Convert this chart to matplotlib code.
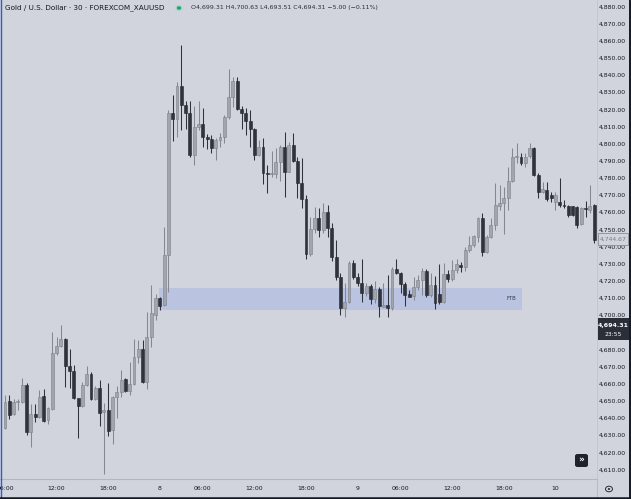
import matplotlib
matplotlib.use("Agg")
import matplotlib.pyplot as plt
from matplotlib.patches import Rectangle, FancyBboxPatch, Circle
from matplotlib.lines import Line2D

# ---------------- data (30-min bars) ----------------
opens = [4634.3, 4650.2, 4642.4, 4649.6, 4649.8, 4659.5, 4632.3, 4642.6, 4640.7, 4653.1,
         4639.1, 4645.3, 4678.0, 4682.5, 4686.5, 4670.6, 4667.9, 4651.8, 4647.5, 4659.5,
         4665.9, 4651.2, 4657.6, 4643.8, 4645.0, 4633.3, 4652.7, 4655.3, 4662.8, 4656.2,
         4660.1, 4675.7, 4680.5, 4661.5, 4687.3, 4700.3, 4710.4, 4706.2, 4735.3, 4818.4,
         4814.5, 4833.9, 4822.9, 4818.0, 4793.7, 4810.2, 4811.6, 4804.0, 4803.0, 4797.6,
         4802.4, 4804.0, 4815.7, 4827.7, 4837.1, 4820.3, 4818.4, 4813.5, 4808.7, 4793.7,
         4798.6, 4783.4, 4782.6, 4782.6, 4789.8, 4798.6, 4784.0, 4799.5, 4790.4, 4777.1,
         4767.8, 4735.9, 4750.3, 4756.7, 4749.9, 4760.6, 4750.9, 4734.3, 4722.7, 4704.3,
         4708.1, 4730.9, 4722.7, 4718.8, 4713.4, 4717.3, 4709.5, 4715.3, 4705.2, 4706.2,
         4704.3, 4727.0, 4725.1, 4718.4, 4712.4, 4711.4, 4716.9, 4720.8, 4726.2, 4712.0,
         4717.9, 4712.6, 4708.1, 4724.1, 4721.2, 4726.6, 4729.5, 4728.5, 4738.3, 4741.2,
         4746.0, 4756.7, 4737.3, 4745.6, 4752.8, 4763.9, 4765.5, 4768.4, 4778.7, 4792.7,
         4792.7, 4788.8, 4793.1, 4797.6, 4782.0, 4772.3, 4773.3, 4770.3, 4766.5, 4766.5,
         4764.5, 4763.9, 4763.9, 4763.5, 4753.4, 4762.6, 4761.6, 4764.5]
highs = [4653.7, 4653.7, 4651.4, 4651.4, 4663.4, 4660.9, 4648.4, 4648.4, 4656.6, 4657.0,
         4646.9, 4690.2, 4687.3, 4694.3, 4687.1, 4680.3, 4671.2, 4652.1, 4661.1, 4670.6,
         4667.3, 4658.9, 4662.4, 4648.8, 4660.9, 4653.3, 4658.9, 4668.3, 4663.8, 4673.1,
         4686.2, 4685.8, 4685.8, 4702.3, 4717.8, 4712.6, 4711.0, 4751.8, 4819.9, 4828.7,
         4836.5, 4857.9, 4825.2, 4825.4, 4822.3, 4825.4, 4820.9, 4806.0, 4805.4, 4803.4,
         4806.7, 4817.0, 4843.7, 4839.4, 4839.4, 4822.3, 4820.9, 4819.9, 4809.2, 4802.4,
         4803.4, 4787.9, 4796.2, 4797.6, 4799.5, 4807.3, 4801.5, 4806.7, 4792.7, 4791.7,
         4770.3, 4757.3, 4763.5, 4762.9, 4765.4, 4764.5, 4754.2, 4744.4, 4724.7, 4718.8,
         4732.1, 4732.4, 4724.7, 4733.2, 4719.2, 4718.4, 4720.4, 4716.5, 4719.2, 4723.7,
         4728.2, 4732.8, 4725.6, 4719.8, 4714.9, 4722.7, 4723.7, 4727.6, 4727.0, 4724.7,
         4723.1, 4730.1, 4730.5, 4726.6, 4732.4, 4732.8, 4731.5, 4740.2, 4746.4, 4747.0,
         4757.3, 4759.6, 4747.0, 4756.7, 4777.1, 4776.2, 4775.2, 4786.5, 4797.6, 4800.9,
         4795.0, 4794.6, 4800.9, 4798.1, 4783.0, 4778.1, 4778.1, 4772.3, 4772.3, 4780.1,
         4767.4, 4764.5, 4763.9, 4763.9, 4763.2, 4767.0, 4776.2, 4765.1]
lows = [4633.7, 4639.5, 4642.0, 4645.0, 4649.2, 4630.4, 4623.2, 4637.8, 4640.1, 4638.1,
        4636.8, 4645.0, 4677.0, 4681.9, 4658.6, 4657.6, 4651.2, 4628.8, 4646.9, 4658.9,
        4650.8, 4650.8, 4635.6, 4607.6, 4630.0, 4624.9, 4640.1, 4652.7, 4655.6, 4653.7,
        4659.5, 4672.2, 4660.9, 4657.0, 4681.9, 4697.4, 4703.2, 4705.6, 4713.9, 4802.1,
        4804.4, 4808.3, 4808.9, 4792.7, 4787.9, 4808.3, 4798.6, 4797.2, 4795.1, 4790.8,
        4798.2, 4800.5, 4814.5, 4821.9, 4820.0, 4808.9, 4805.4, 4798.6, 4790.8, 4793.1,
        4776.8, 4771.3, 4781.1, 4780.1, 4778.7, 4769.4, 4784.0, 4789.8, 4768.4, 4762.5,
        4732.8, 4734.7, 4748.0, 4746.0, 4748.3, 4745.6, 4732.0, 4720.8, 4700.4, 4699.4,
        4707.6, 4721.2, 4717.3, 4708.1, 4711.5, 4706.8, 4707.2, 4699.4, 4704.8, 4699.4,
        4703.3, 4724.3, 4713.0, 4705.6, 4710.7, 4709.1, 4714.9, 4712.0, 4710.7, 4710.7,
        4703.7, 4706.8, 4707.6, 4719.8, 4720.4, 4724.7, 4725.5, 4726.0, 4737.3, 4740.2,
        4743.1, 4734.8, 4736.3, 4745.1, 4749.9, 4761.6, 4747.6, 4761.6, 4778.1, 4788.8,
        4787.8, 4786.9, 4791.7, 4781.4, 4768.4, 4771.3, 4767.0, 4766.5, 4761.6, 4763.5,
        4762.6, 4757.3, 4758.1, 4750.9, 4752.8, 4757.7, 4759.6, 4742.2]
closes = [4649.8, 4642.0, 4649.4, 4650.4, 4659.5, 4631.9, 4642.6, 4640.7, 4652.7, 4638.7,
          4646.3, 4678.4, 4682.5, 4686.2, 4670.8, 4667.7, 4651.8, 4647.5, 4659.5, 4665.9,
          4651.2, 4658.0, 4643.4, 4645.0, 4632.9, 4652.7, 4655.6, 4662.4, 4656.2, 4660.1,
          4675.7, 4680.3, 4661.5, 4687.3, 4701.3, 4710.4, 4705.6, 4735.3, 4818.4, 4814.5,
          4833.9, 4822.9, 4818.0, 4793.7, 4810.2, 4811.6, 4804.0, 4803.0, 4797.6, 4802.4,
          4804.0, 4815.7, 4827.7, 4837.1, 4820.3, 4818.4, 4813.5, 4808.7, 4793.7, 4798.6,
          4783.4, 4782.6, 4783.4, 4789.8, 4798.6, 4784.0, 4799.5, 4790.4, 4777.2, 4767.8,
          4735.9, 4750.3, 4756.7, 4749.9, 4760.6, 4750.9, 4734.3, 4722.7, 4704.3, 4708.1,
          4730.5, 4722.7, 4718.8, 4713.0, 4717.3, 4709.5, 4715.3, 4705.6, 4706.2, 4704.3,
          4727.0, 4724.7, 4718.4, 4712.0, 4711.1, 4716.9, 4720.8, 4726.2, 4712.0, 4717.9,
          4707.2, 4708.1, 4724.1, 4721.2, 4726.6, 4730.1, 4728.5, 4738.3, 4741.2, 4746.4,
          4756.7, 4737.3, 4746.0, 4752.8, 4764.5, 4765.9, 4768.4, 4778.7, 4792.7, 4793.3,
          4788.8, 4792.7, 4797.6, 4782.0, 4772.3, 4773.6, 4767.8, 4768.4, 4770.3, 4764.5,
          4763.9, 4758.7, 4758.7, 4752.8, 4762.6, 4762.0, 4763.9, 4744.1]

time_tick_pos = [0, 12, 24, 36, 46, 58, 70, 82, 92, 104, 116, 128]
time_tick_labels = ["06:00", "12:00", "18:00", "8", "06:00", "12:00", "18:00", "9",
                    "06:00", "12:00", "18:00", "10"]
price_ticks = [4610, 4620, 4630, 4640, 4650, 4660, 4670, 4680, 4700, 4710, 4720, 4730,
               4740, 4750, 4760, 4770, 4780, 4790, 4800, 4810, 4820, 4830, 4840, 4850,
               4860, 4870, 4880]
zone_low, zone_high = 4703.2, 4716.4
zone_start, zone_end = 35.9, 120.2
last_price = 4694.31
marker_price = 4744.67

# ---------------- figure ----------------
W, H = 631, 499
BG = "#D1D4DC"
fig = plt.figure(figsize=(W / 100, H / 100), dpi=100)
fig.patch.set_facecolor(BG)
ax = fig.add_axes([0, 20 / H, 597 / W, 479 / H])
ax.set_facecolor(BG)
ax.set_xlim(-5 / 4.3, 592 / 4.3)
ax.set_ylim(4604.75, 4884.05)
for s in ["top", "left"]:
    ax.spines[s].set_visible(False)
ax.spines["bottom"].set_color("#B4B7C0")
ax.spines["right"].set_color("#C2C5CD")
ax.spines["bottom"].set_linewidth(0.8)
ax.spines["right"].set_linewidth(0.6)
ax.set_xticks([])
ax.set_yticks([])

UP_BODY, UP_EDGE = "#A2A5AD", "#7D8089"
DN_BODY, DN_EDGE = "#30333C", "#23252C"

# FTB zone
ax.add_patch(Rectangle((zone_start, zone_low), zone_end - zone_start, zone_high - zone_low,
                       facecolor="#BAC3E0", edgecolor="none", zorder=1))
ax.text(zone_end - 1.3, (zone_low + zone_high) / 2, "FTB", ha="right", va="center",
        fontsize=3.9, color="#3A3D46", zorder=2)

# candles
for i, (o, h, l, c) in enumerate(zip(opens, highs, lows, closes)):
    up = c >= o
    wc = "#858891" if up else DN_BODY
    ax.vlines(i, l, h, color=wc, linewidth=0.75, zorder=3)
    bottom = min(o, c)
    height = max(abs(c - o), 0.6)
    ax.bar(i, height, bottom=bottom, width=0.68,
           color=UP_BODY if up else DN_BODY,
           edgecolor=UP_EDGE if up else DN_EDGE, linewidth=0.4, zorder=4)

# time axis labels (first one is partly cut by the left edge, as in the reference)
xt = ax.get_xaxis_transform()
for p, lab in zip(time_tick_pos, time_tick_labels):
    ax.text(p, -10 / 479, lab, transform=xt, ha="center", va="center",
            fontsize=4.4, color="#131722", clip_on=False)

# price axis labels
yt = ax.get_yaxis_transform()
for p in price_ticks:
    ax.text(626 / 597, p, f"{p:,.2f}", transform=yt, ha="right", va="center",
            fontsize=4.4, color="#131722", clip_on=False)


def ypix(p):
    return 470 - (p - 4610) * 1.7148


# 4,744.67 outlined label
y0 = ypix(marker_price)
fig.patches.append(Rectangle((598 / W, 1 - (y0 + 6) / H), 30 / W, 12 / H,
                             transform=fig.transFigure, facecolor=BG,
                             edgecolor="#8A8D96", linewidth=0.6))
fig.text(613 / W, 1 - y0 / H, f"{marker_price:,.2f}", ha="center", va="center",
         fontsize=4.4, color="#7A7D86")

# current price dark label
y1 = ypix(last_price)
fig.patches.append(Rectangle((598 / W, 1 - (y1 + 15) / H), 31 / W, 22 / H,
                             transform=fig.transFigure, facecolor="#2A2E39",
                             edgecolor="none"))
fig.text(613 / W, 1 - (y1 + 0.5) / H, f"{last_price:,.2f}", ha="center", va="center",
         fontsize=4.5, color="white", fontweight="bold")
fig.text(613 / W, 1 - (y1 + 9.5) / H, "23:55", ha="center", va="center",
         fontsize=4.3, color="white")

# header
fig.text(5 / W, 1 - 8 / H, "Gold / U.S. Dollar · 30 · FOREXCOM_XAUUSD", ha="left",
         va="center", fontsize=5.2, color="#131722")
fig.patches.append(Circle((179 / W, 1 - 8 / H), 3.6 / W, transform=fig.transFigure,
                          facecolor="#A8D8C8", edgecolor="none"))
fig.patches.append(Circle((179 / W, 1 - 8 / H), 2.2 / W, transform=fig.transFigure,
                          facecolor="#22A07A", edgecolor="none"))
fig.text(191 / W, 1 - 8 / H, "O4,699.31 H4,700.63 L4,693.51 C4,694.31 \u22125.00 (\u22120.11%)",
         ha="left", va="center", fontsize=4.5, color="#2A2E39")

# scroll button
fig.patches.append(FancyBboxPatch((575 / W, 1 - 467 / H), 13 / W, 13 / H,
                                  boxstyle="round,pad=0,rounding_size=0.004",
                                  transform=fig.transFigure, facecolor="#1E222D",
                                  edgecolor="none"))
fig.text(581.5 / W, 1 - 460.5 / H, "\u00bb", ha="center", va="center", fontsize=6.5,
         color="white", fontweight="bold")

# settings icon
fig.patches.append(Circle((609 / W, 1 - 489 / H), 3.5 / W, transform=fig.transFigure,
                          facecolor="none", edgecolor="#2A2E39", linewidth=0.7))
fig.patches.append(Circle((609 / W, 1 - 489 / H), 1.2 / W, transform=fig.transFigure,
                          facecolor="#2A2E39", edgecolor="none"))

# separator in time scale
fig.lines.append(Line2D([597 / W, 597 / W], [0, 20 / H], transform=fig.transFigure,
                        color="#B4B7C0", linewidth=0.6))

# frame edges
fig.lines.append(Line2D([0.5 / W, 0.5 / W], [0, 1], transform=fig.transFigure,
                        color="#2F5BD0", linewidth=1.0))
fig.lines.append(Line2D([0, 1], [1.2 / H, 1.2 / H], transform=fig.transFigure,
                        color="#131722", linewidth=1.8))
fig.lines.append(Line2D([1 - 1 / W, 1 - 1 / W], [0, 1], transform=fig.transFigure,
                        color="#131722", linewidth=1.4))

fig.savefig("out.png", dpi=100, facecolor=BG)
